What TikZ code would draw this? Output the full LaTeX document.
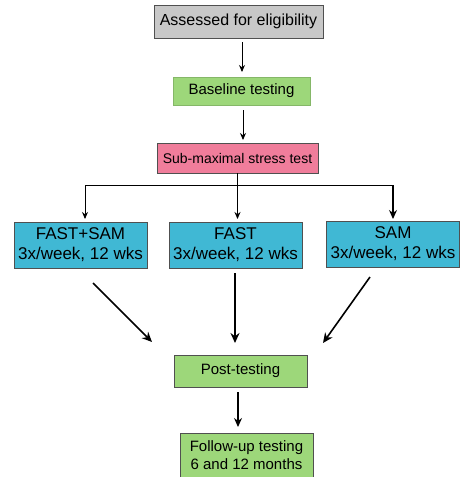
\documentclass[tikz,border=0pt]{standalone}
\usepackage{fontspec}
\setmainfont{Liberation Sans}
\usetikzlibrary{arrows.meta}
\definecolor{boxgray}{RGB}{200,200,200}
\definecolor{boxgreen}{RGB}{157,215,122}
\definecolor{boxpink}{RGB}{240,125,155}
\definecolor{boxblue}{RGB}{64,184,212}
\definecolor{edgegray}{RGB}{80,80,80}
\tikzset{
  box/.style={draw=edgegray, line width=0.8pt, inner sep=0pt, align=center, text=black},
  arr/.style={-{Stealth[length=7pt,width=6pt]}, line width=0.9pt},
  midarr/.style={-{Stealth[length=9pt,width=8pt]}, line width=1.3pt},
  thickarr/.style={-{Stealth[length=10pt,width=9pt]}, line width=1.6pt},
}
\begin{document}
\begin{tikzpicture}[x=1pt,y=-1pt]
\useasboundingbox (0,0) rectangle (460,477);
\node[box, fill=boxgray, minimum width=169pt, minimum height=33pt, font=\fontsize{16}{18}\selectfont] (elig) at (238.5,21.5) {Assessed for eligibility};
\node[box, draw=boxgreen!85!black, fill=boxgreen, minimum width=137pt, minimum height=28pt, font=\fontsize{15}{17}\selectfont] (base) at (241.5,91) {Baseline testing};
\node[box, fill=boxpink, minimum width=161pt, minimum height=30pt, font=\fontsize{14}{16}\selectfont] (sub) at (237.5,158) {Sub-maximal stress test};
\node[box, fill=boxblue, minimum width=133pt, minimum height=46pt, font=\fontsize{17}{20}\selectfont] (fs) at (80.5,245) {FAST+SAM\\3x/week, 12 wks};
\node[box, fill=boxblue, minimum width=133pt, minimum height=46pt, font=\fontsize{17}{20}\selectfont] (fast) at (235.5,245) {FAST\\3x/week, 12 wks};
\node[box, fill=boxblue, minimum width=133pt, minimum height=46pt, font=\fontsize{17}{20}\selectfont] (sam) at (393,244) {SAM\\3x/week, 12 wks};
\node[box, fill=boxgreen, minimum width=133pt, minimum height=32pt, font=\fontsize{15}{17}\selectfont] (post) at (240.5,371) {Post-testing};
\node[box, fill=boxgreen, minimum width=133pt, minimum height=44pt, font=\fontsize{15}{17.5}\selectfont] (follow) at (246.5,455) {Follow-up testing\\6 and 12 months};
% connector end points (arrows stop short of the boxes)
\coordinate (a1s) at (242,42);  \coordinate (a1e) at (242,72);
\coordinate (a2s) at (243,110); \coordinate (a2e) at (243,140);
\coordinate (br) at (237.5,185);
\coordinate (bl) at (85,185);   \coordinate (ble) at (85,219);
\coordinate (bm) at (237.5,185);\coordinate (bme) at (237.5,219);
\coordinate (brr) at (393,185); \coordinate (brre) at (393,219);
\coordinate (d1s) at (93,283);  \coordinate (d1e) at (152,342);
\coordinate (d2s) at (235,273); \coordinate (d2e) at (235,343);
\coordinate (d3s) at (370,277); \coordinate (d3e) at (323,343);
\coordinate (a5s) at (238,392); \coordinate (a5e) at (238,427);
% connectors
\draw[arr] (a1s) -- (a1e);
\draw[arr] (a2s) -- (a2e);
\draw[line width=0.9pt] (sub.south) -- (br);
\draw[line width=0.9pt] (bl) -- (brr);
\draw[arr] (bl) -- (ble);
\draw[arr] (bm) -- (bme);
\draw[midarr] (brr) -- (brre);
\draw[thickarr] (d1s) -- (d1e);
\draw[thickarr] (d2s) -- (d2e);
\draw[thickarr] (d3s) -- (d3e);
\draw[midarr] (a5s) -- (a5e);
\end{tikzpicture}
\end{document}
